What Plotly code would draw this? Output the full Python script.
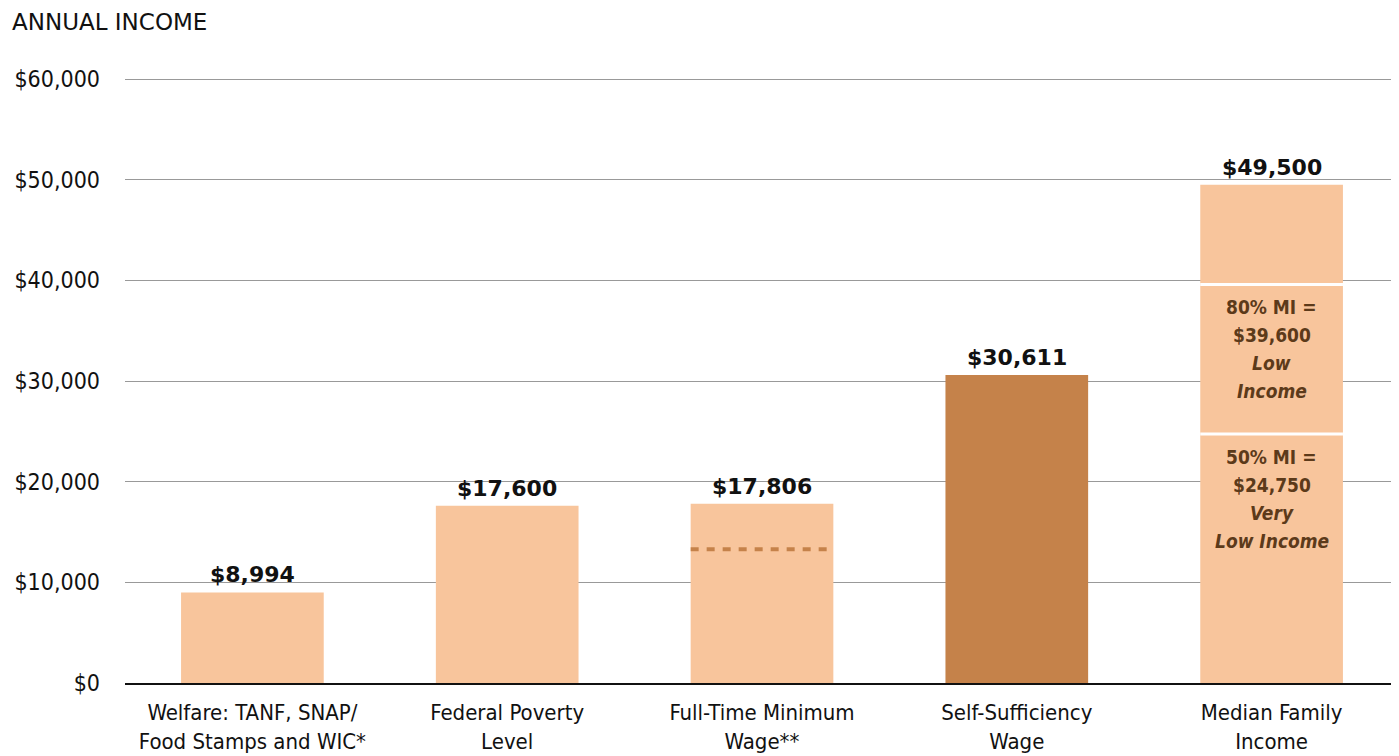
import plotly.graph_objects as go

# ---- data ----
categories = [
    "Welfare: TANF, SNAP/<br>Food Stamps and WIC*",
    "Federal Poverty<br>Level",
    "Full-Time Minimum<br>Wage**",
    "Self-Sufficiency<br>Wage",
    "Median Family<br>Income",
]
values = [8994, 17600, 17806, 30611, 49500]
bar_colors = ["#F8C59C", "#F8C59C", "#F8C59C", "#C5824A", "#F8C59C"]
min_wage_marker = 13300          # dashed line inside the minimum-wage bar
mi_very_low = 24750              # 50% of median income
mi_low = 39600                   # 80% of median income
mi_blocks = [
    ["50% MI =", "$24,750", "<i>Very</i>", "<i>Low Income</i>"],
    ["80% MI =", "$39,600", "<i>Low</i>", "<i>Income</i>"],
]
y_ticks = [0, 10000, 20000, 30000, 40000, 50000, 60000]

FONT = "DejaVu Sans"
FONT_C = "DejaVu Sans Condensed, DejaVu Sans"
LIGHT = "#F8C59C"
BAR_W = 0.56
PAGE = 8  # default body margin of the html page
Y_TOP = 61000
PLOT_H = 604 * Y_TOP / 60000

fig = go.Figure()

fig.add_trace(go.Bar(
    x=list(range(5)), y=values,
    marker=dict(color=bar_colors, line=dict(width=0)),
    width=BAR_W, hoverinfo="skip",
))

# white separators inside the median income bar
for b in [mi_very_low, mi_low]:
    fig.add_shape(
        type="line", xref="x", yref="y",
        x0=4 - BAR_W / 2, x1=4 + BAR_W / 2, y0=b, y1=b,
        line=dict(color="white", width=3),
    )

for i, v in enumerate(values):
    fig.add_annotation(
        x=i, y=v, text=f"<b>${v:,}</b>", showarrow=False,
        yanchor="bottom", yshift=3,
        font=dict(family=FONT, size=22, color="#111111"),
    )

seg_tops = [mi_very_low, mi_low]
for top, lines in zip(seg_tops, mi_blocks):
    for k, t in enumerate(lines):
        fig.add_annotation(
            x=4, y=top, text=f"<b>{t}</b>", showarrow=False,
            yanchor="middle", yshift=-(23 + 28 * k),
            font=dict(family=FONT_C, size=19, color="#5C3A1A"),
        )

fig.add_shape(
    type="line", xref="x", yref="y",
    x0=2 - BAR_W / 2, x1=2 + BAR_W / 2, y0=min_wage_marker, y1=min_wage_marker,
    line=dict(color="#C5824A", width=4, dash="8px,8px"),
)

fig.update_layout(
    width=1399 - PAGE, height=756 - PAGE,
    margin=dict(l=125 - PAGE, r=0, t=round(756 - PAGE - 73 - PLOT_H), b=73,
                autoexpand=False),
    paper_bgcolor="white", plot_bgcolor="white",
    showlegend=False,
    title=dict(
        text="ANNUAL INCOME", x=(12 - PAGE) / (1399 - PAGE), xanchor="left",
        y=1 - (22 - PAGE) / (756 - PAGE), yanchor="middle",
        font=dict(family=FONT, size=23, color="#111111"),
    ),
    font=dict(family=FONT, color="#111111"),
)
fig.update_xaxes(
    tickvals=list(range(5)), ticktext=categories, range=[-0.5, 4.5],
    showline=True, linecolor="#111111", linewidth=2,
    showgrid=False, ticks="", tickfont=dict(family=FONT_C, size=22),
    ticklabelstandoff=9, automargin=False,
    fixedrange=True,
)
fig.update_yaxes(
    range=[0, Y_TOP], tickvals=y_ticks,
    ticktext=[f"${t:,}" for t in y_ticks],
    showgrid=True, gridcolor="#999999", gridwidth=1,
    zeroline=False, showline=False, ticks="",
    tickfont=dict(family=FONT_C, size=23), ticklabelstandoff=24,
    automargin=False, fixedrange=True,
)

fig.write_html("out.html")
